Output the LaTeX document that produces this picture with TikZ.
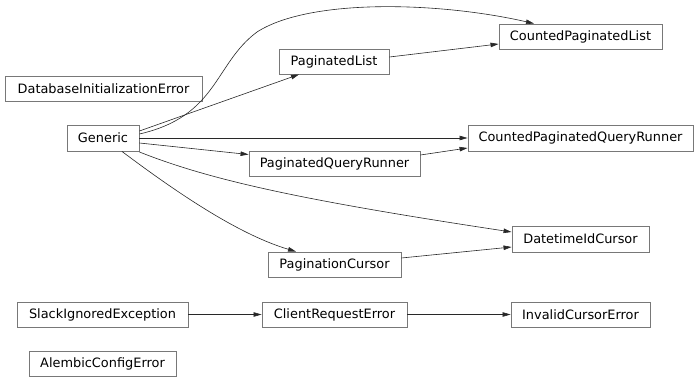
\documentclass[tikz,border=0pt]{standalone}
\usepackage{fontspec}
\setmainfont{DejaVu Sans}
\usetikzlibrary{arrows.meta}
\definecolor{boxc}{RGB}{120,120,120}
\definecolor{edgec}{RGB}{40,40,40}
\tikzset{
  cls/.style={draw=boxc, line width=0.9pt, inner sep=0pt, font=\fontsize{12.9}{15}\selectfont, anchor=center},
  inh/.style={draw=edgec, line width=0.6pt, -{Triangle[length=8pt,width=4.5pt]}},
}
\begin{document}
\begin{tikzpicture}[x=1pt,y=-1pt]
\useasboundingbox (0,0) rectangle (699,382);
% nodes: center, width, height
\node[cls, minimum width=197pt, minimum height=25pt] (die) at (103.5,88.5) {DatabaseInitializationError};
\node[cls, minimum width=72pt, minimum height=26pt] (gen) at (103,138) {Generic};
\node[cls, minimum width=110pt, minimum height=25pt] (pl) at (334,61.5) {PaginatedList};
\node[cls, minimum width=171pt, minimum height=25pt] (pqr) at (334.5,163.5) {PaginatedQueryRunner};
\node[cls, minimum width=163pt, minimum height=25pt] (cpl) at (580.5,36.5) {CountedPaginatedList};
\node[cls, minimum width=225pt, minimum height=26pt] (cpqr) at (580.5,138) {CountedPaginatedQueryRunner};
\node[cls, minimum width=133pt, minimum height=25pt] (pc) at (334.5,264.5) {PaginationCursor};
\node[cls, minimum width=137pt, minimum height=26pt] (dic) at (580.5,239) {DatetimeIdCursor};
\node[cls, minimum width=171pt, minimum height=25pt] (sie) at (102.5,314.5) {SlackIgnoredException};
\node[cls, minimum width=145pt, minimum height=25pt] (cre) at (334.5,314.5) {ClientRequestError};
\node[cls, minimum width=139pt, minimum height=25pt] (ice) at (580.5,314.5) {InvalidCursorError};
\node[cls, minimum width=147pt, minimum height=25pt] (ace) at (102.5,363.5) {AlembicConfigError};
% edges
\draw[inh] (gen.east |- 0,131) -- (pl.south west -| 299,0);
\draw[inh] (gen.east |- 0,134) .. controls (218,116) and (214,64) .. (257,32)
  .. controls (310,-2) and (440,2) .. (cpl.north west -| 534,0);
\draw[inh] (gen.east |- 0,138) -- (cpqr.west);
\draw[inh] (gen.east |- 0,143) -- (pqr.west |- 0,154.5);
\draw[inh] (gen.east |- 0,152) .. controls (210,180) and (300,200) .. (dic.west |- 0,232);
\draw[inh] (gen.south -| 122,0) .. controls (180,195) and (240,235) .. (pc.north -| 296,0);
\draw[inh] (pl.east |- 0,57) -- (cpl.west |- 0,44);
\draw[inh] (pqr.east |- 0,155) -- (cpqr.west |- 0,148);
\draw[inh] (pc.east |- 0,258) -- (dic.west |- 0,247);
\draw[inh] (sie) -- (cre);
\draw[inh] (cre) -- (ice);
\end{tikzpicture}
\end{document}
